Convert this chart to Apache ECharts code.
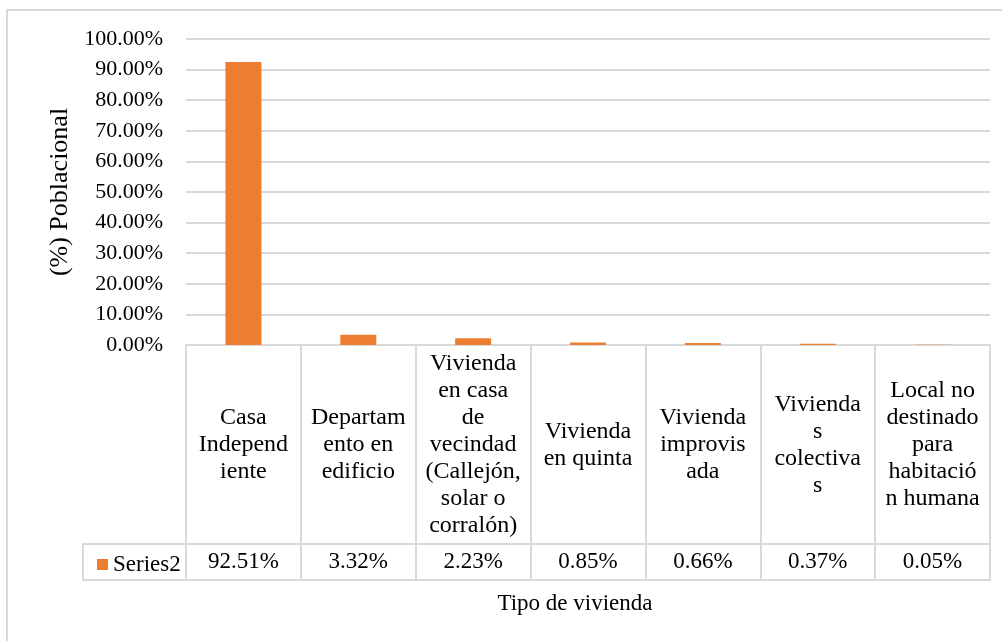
<!DOCTYPE html>
<html>
<head>
<meta charset="utf-8">
<script src="https://cdn.jsdelivr.net/npm/echarts@6/dist/echarts.min.js"></script>
<style>
  html, body { margin: 0; padding: 0; background: #fff; }
  #chart { width: 1002px; height: 641px; }
</style>
</head>
<body>
<div id="chart"></div>
<script>
// categorias (texto completo) y su rotulo partido como en la tabla de datos
const categories = [
  "Casa Independiente",
  "Departamento en edificio",
  "Vivienda en casa de vecindad (Callejón, solar o corralón)",
  "Vivienda en quinta",
  "Vivienda improvisada",
  "Viviendas colectivas",
  "Local no destinado para habitación humana"
];
const categoryLabels = [
  "Casa\nIndepend\niente",
  "Departam\nento en\nedificio",
  "Vivienda\nen casa\nde\nvecindad\n(Callejón,\nsolar o\ncorralón)",
  "Vivienda\nen quinta",
  "Vivienda\nimprovis\nada",
  "Vivienda\ns\ncolectiva\ns",
  "Local no\ndestinado\npara\nhabitació\nn humana"
];
// % poblacional
const series2 = [92.51, 3.32, 2.23, 0.85, 0.66, 0.37, 0.05];
const yTicks = [0, 10, 20, 30, 40, 50, 60, 70, 80, 90, 100];

const FONT = "'Liberation Serif', 'Times New Roman', serif";
const LINE = "#d9d9d9";
const ORANGE = "#ED7D31";

const chart = echarts.init(document.getElementById("chart"));

const option = {
  animation: false,
  textStyle: { fontFamily: FONT, color: "#000" },
  grid: { left: 186, right: 12, top: 39, bottom: 296 },
  legend: {
    left: 92,
    top: 548,
    itemWidth: 11,
    itemHeight: 11,
    itemGap: 5,
    icon: "rect",
    textStyle: { fontFamily: FONT, fontSize: 23, color: "#000" },
    data: ["Series2"]
  },
  xAxis: [
    {
      // fila de encabezados
      type: "category",
      data: categories,
      position: "bottom",
      axisLine: { show: true, lineStyle: { color: LINE, width: 2 } },
      axisTick: { show: true, interval: 0, length: 235, lineStyle: { color: LINE, width: 2 } },
      axisLabel: {
        interval: 0,
        margin: 100,
        verticalAlign: "middle",
        fontFamily: FONT,
        fontSize: 24,
        lineHeight: 27,
        color: "#000",
        formatter: (v, i) => categoryLabels[i]
      },
      splitLine: { show: false }
    },
    {
      // fila de valores
      type: "category",
      data: categories,
      position: "bottom",
      offset: 199,
      axisLine: { show: true, lineStyle: { color: LINE, width: 2 } },
      axisTick: { show: false },
      axisLabel: {
        interval: 0,
        margin: 18,
        verticalAlign: "middle",
        fontFamily: FONT,
        fontSize: 23,
        color: "#000",
        formatter: (v, i) => series2[i].toFixed(2) + "%"
      }
    },
    {
      // borde inferior de la tabla
      type: "category",
      data: categories,
      position: "bottom",
      offset: 235,
      axisLine: { show: true, lineStyle: { color: LINE, width: 2 } },
      axisTick: { show: false },
      axisLabel: { show: false }
    }
  ],
  yAxis: {
    type: "value",
    min: yTicks[0],
    max: yTicks[yTicks.length - 1],
    interval: 10,
    name: "(%) Poblacional",
    nameLocation: "middle",
    nameRotate: 90,
    nameGap: 113,
    nameTextStyle: { fontFamily: FONT, fontSize: 26, color: "#000" },
    axisLine: { show: false },
    axisTick: { show: false },
    axisLabel: {
      margin: 23,
      fontFamily: FONT,
      fontSize: 22,
      color: "#000",
      formatter: (v) => v.toFixed(2) + "%"
    },
    splitLine: { lineStyle: { color: LINE, width: 2 } }
  },
  series: [
    {
      name: "Series2",
      type: "bar",
      data: series2,
      barWidth: 36,
      itemStyle: { color: ORANGE }
    }
  ],
  graphic: [
    {
      // marco del grafico
      type: "rect",
      shape: { x: 7, y: 10, width: 1010, height: 650 },
      style: { fill: "none", stroke: LINE, lineWidth: 2 },
      silent: true
    },
    {
      // celda de leyenda de la tabla
      type: "rect",
      shape: { x: 83, y: 544, width: 103, height: 36 },
      style: { fill: "none", stroke: LINE, lineWidth: 2 },
      silent: true
    },
    {
      type: "text",
      x: 575,
      y: 604,
      style: {
        text: "Tipo de vivienda",
        fontFamily: FONT,
        fontSize: 23,
        fill: "#000",
        align: "center",
        verticalAlign: "middle"
      }
    }
  ]
};

chart.setOption(option);
</script>
</body>
</html>
